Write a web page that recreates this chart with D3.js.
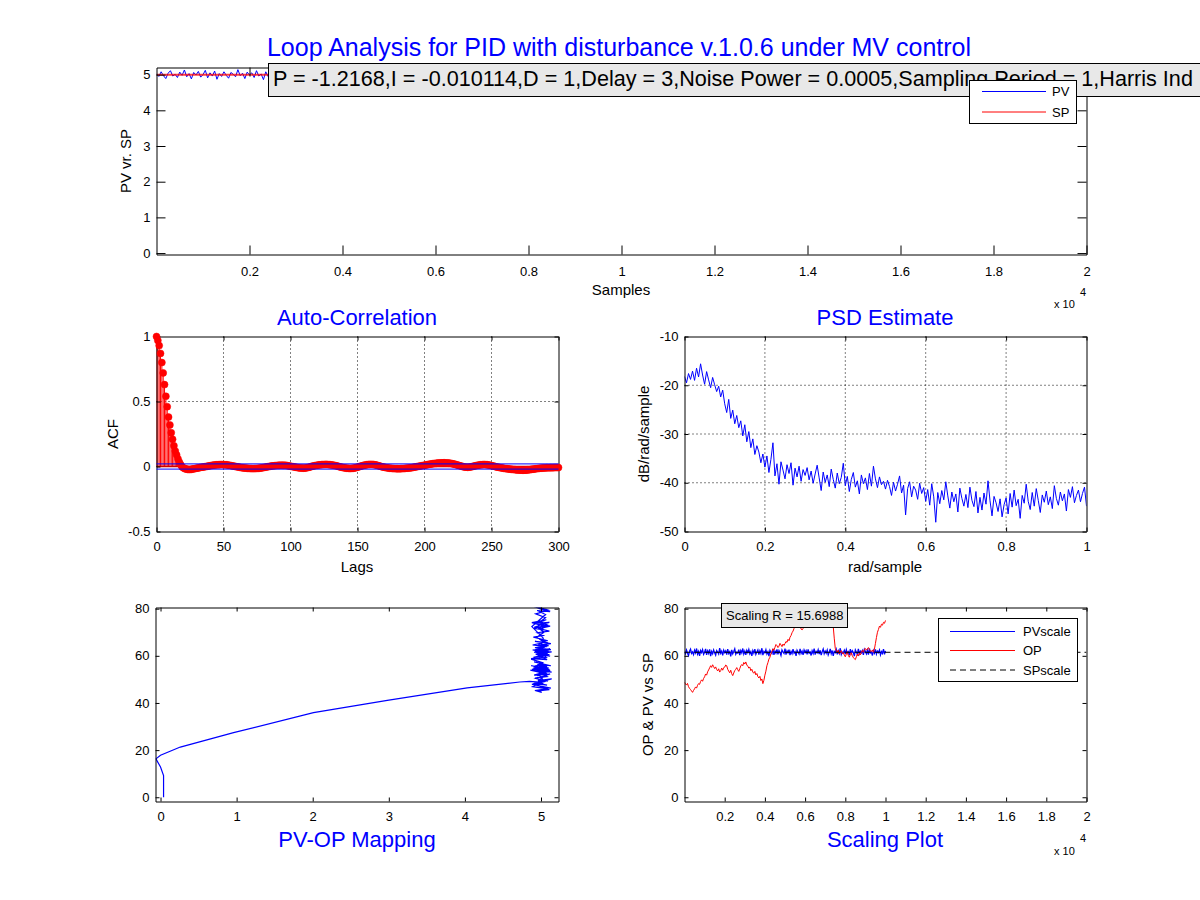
<!DOCTYPE html>
<html>
<head>
<meta charset="utf-8">
<script src="https://cdn.jsdelivr.net/npm/d3@7"></script>
<style>
body { margin: 0; background: #fff; }
text { font-family: "Liberation Sans", Arial, Helvetica, sans-serif; }
</style>
</head>
<body>
<div id="chart"></div>
<script>
// ---- data ----
const sampleStep = 50;            // samples between stored points
const spValue = 5;
const spScaleValue = 61.5;

const pvSeries = [
  5.02, 4.95, 5.08, 4.97, 4.89, 5.04, 5.11, 4.96, 5.01, 4.92, 5.07, 4.98, 5.13, 4.94, 5.03, 4.88, 5.06, 4.99, 5.09, 4.93,
  5.00, 5.12, 4.91, 5.05, 4.96, 5.10, 4.87, 5.03, 4.95, 5.08, 4.98, 4.90, 5.06, 5.01, 4.94, 5.14, 4.97, 5.04, 4.89, 5.07,
  4.99, 5.05, 4.92, 5.11, 4.96, 5.02, 4.86, 5.08, 4.95, 5.03, 5.12, 4.93, 5.00, 4.97, 5.09, 4.90, 5.06, 4.98, 5.13, 4.94,
  5.04, 4.91, 5.07, 4.99, 5.10, 4.95, 5.02, 4.88, 5.06, 4.97, 5.11, 4.93, 5.01, 5.08, 4.92, 5.05, 4.96, 5.14, 4.90, 5.03,
  4.98, 5.09, 4.94, 5.02, 4.87, 5.07, 5.00, 4.95, 5.12, 4.91, 5.04, 4.97, 5.10, 4.93, 5.06, 4.99, 4.89, 5.08, 5.01, 4.96,
  5.13, 4.92, 5.05, 4.98, 5.09, 4.90, 5.03, 4.95, 5.11, 4.97, 5.02, 4.88, 5.07, 5.00, 4.94, 5.12, 4.96, 5.04, 4.91, 5.08,
  4.99, 5.06, 4.93, 5.10, 4.97, 5.01, 4.89, 5.05, 4.96, 5.13, 4.92, 5.03, 4.98, 5.09, 4.94, 5.07, 4.90, 5.02, 5.11, 4.95,
  5.04, 4.97, 5.08, 4.91, 5.00, 5.12, 4.95, 5.06, 4.88, 5.03, 4.99, 5.10, 4.93, 5.05, 4.96, 5.14, 4.92, 5.01, 4.98, 5.07,
  4.94, 5.09, 4.97, 5.02, 4.90, 5.11, 4.96, 5.05, 4.99, 4.87, 5.08, 5.00, 4.93, 5.12, 4.95, 5.04, 4.98, 5.06, 4.91, 5.10,
  5.03, 4.95, 5.07, 4.92, 5.13, 4.98, 5.01, 4.89, 5.06, 4.97, 5.10, 4.94, 5.04, 4.99, 5.08, 4.91, 5.02, 4.96, 5.11, 4.93,
  5.05
];

const opSeries = [
  48.8, 48.1, 47.6, 48.3, 46.9, 46.2, 45.7, 45.1, 44.5, 45.3, 46.0, 46.8, 46.3, 47.5, 48.2, 47.9, 49.1, 49.8, 49.2, 50.4,
  51.1, 52.3, 51.8, 53.2, 54.0, 54.9, 55.8, 55.1, 56.2, 55.4, 54.6, 55.3, 54.2, 53.6, 54.5, 53.1, 53.7, 54.8, 53.9, 55.0,
  55.2, 56.1, 55.8, 54.3, 53.5, 52.8, 53.9, 52.4, 51.6, 52.7, 53.8, 54.2, 55.0, 54.1, 53.4, 54.6, 55.7, 56.3, 55.8, 57.2,
  56.5, 57.4, 56.1, 55.6, 54.8, 55.2, 53.7, 54.3, 53.1, 52.6, 53.4, 51.9, 52.5, 51.2, 50.6, 51.3, 49.5, 50.2, 48.2, 49.6,
  51.8, 53.5, 55.8, 57.1, 58.6, 59.4, 61.0, 61.8, 63.0, 62.4, 63.6, 64.8, 64.3, 63.5, 64.1, 65.3, 64.6, 63.9, 65.0, 64.4,
  65.2, 66.1, 65.7, 67.0, 66.4, 67.9, 68.6, 69.8, 70.5, 71.6, 72.8, 74.1, 75.3, 74.6, 73.5, 72.6, 71.4, 71.0, 71.6, 73.1,
  74.5, 76.2, 77.8, 79.3, 80.6, 81.9, 83.2, 82.5, 84.1, 85.3, 84.6, 86.0, 85.2, 86.8, 87.5, 86.3, 85.1, 84.4, 83.0, 82.2,
  81.5, 80.3, 79.6, 80.9, 79.8, 78.7, 79.2, 77.5, 72.4, 67.5, 63.2, 62.1, 61.5, 62.4, 60.8, 61.7, 62.2, 60.9, 61.4, 60.3,
  59.6, 60.7, 61.8, 60.2, 59.4, 60.5, 61.3, 60.1, 59.2, 58.8, 58.4, 59.6, 60.8, 59.9, 61.2, 60.4, 61.7, 62.3, 61.5, 62.8,
  63.1, 62.4, 62.9, 63.5, 62.6, 62.0, 61.8, 62.5, 61.5, 62.9, 65.3, 67.8, 70.0, 71.2, 72.6, 72.1, 73.4, 73.0, 74.2, 73.8,
  75.0
];

// start-up transient (PV, OP) before the loop settles
const startPV = [0.04, 0.04, 0.04, 0.00, -0.06, 0.00, 0.26, 0.96, 2.01, 2.98, 4.03, 4.72, 4.85];
const startOP = [0.0, 5.0, 9.2, 12.8, 16.3, 17.8, 21.3, 27.4, 35.9, 41.1, 46.4, 48.9, 49.2];

const acfValues = [
  1.00, 0.97, 0.93, 0.87, 0.80, 0.72, 0.63, 0.54, 0.46, 0.38,
  0.32, 0.26, 0.21, 0.16, 0.12, 0.09, 0.06, 0.035, 0.015, -0.002,
  -0.010, -0.016, -0.020, -0.022, -0.023, -0.023, -0.022, -0.020, -0.018, -0.015,
  -0.013, -0.011, -0.009, -0.007, -0.005, -0.004, -0.002, 0.000, 0.002, 0.004,
  0.006, 0.008, 0.009, 0.011, 0.012, 0.013, 0.014, 0.014, 0.015, 0.015,
  0.014, 0.014, 0.013, 0.012, 0.010, 0.008, 0.006, 0.004, 0.002, 0.000,
  -0.002, -0.004, -0.006, -0.008, -0.010, -0.011, -0.012, -0.013, -0.014, -0.015,
  -0.015, -0.016, -0.016, -0.016, -0.015, -0.015, -0.014, -0.013, -0.011, -0.010,
  -0.008, -0.006, -0.004, -0.002, 0.000, 0.002, 0.004, 0.005, 0.006, 0.007,
  0.008, 0.009, 0.009, 0.010, 0.010, 0.009, 0.009, 0.008, 0.006, 0.004,
  0.002, 0.000, -0.002, -0.004, -0.006, -0.008, -0.010, -0.011, -0.012, -0.012,
  -0.013, -0.012, -0.010, -0.008, -0.005, -0.002, 0.001, 0.004, 0.006, 0.008,
  0.010, 0.012, 0.013, 0.014, 0.015, 0.015, 0.016, 0.016, 0.015, 0.014,
  0.013, 0.012, 0.010, 0.008, 0.006, 0.003, 0.000, -0.003, -0.005, -0.008,
  -0.010, -0.012, -0.013, -0.014, -0.015, -0.015, -0.014, -0.013, -0.011, -0.008,
  -0.005, -0.002, 0.001, 0.004, 0.007, 0.010, 0.012, 0.014, 0.015, 0.016,
  0.016, 0.016, 0.015, 0.013, 0.011, 0.008, 0.005, 0.002, -0.001, -0.004,
  -0.006, -0.008, -0.010, -0.012, -0.013, -0.014, -0.015, -0.016, -0.016, -0.017,
  -0.017, -0.017, -0.017, -0.016, -0.016, -0.015, -0.014, -0.013, -0.012, -0.011,
  -0.010, -0.008, -0.006, -0.004, -0.002, 0.000, 0.002, 0.004, 0.006, 0.008,
  0.010, 0.012, 0.014, 0.016, 0.018, 0.020, 0.021, 0.023, 0.024, 0.025,
  0.026, 0.027, 0.027, 0.028, 0.028, 0.028, 0.027, 0.027, 0.026, 0.025,
  0.023, 0.021, 0.019, 0.016, 0.013, 0.010, 0.007, 0.004, 0.001, -0.002,
  -0.004, -0.005, -0.006, -0.005, -0.004, -0.002, 0.000, 0.003, 0.005, 0.008,
  0.010, 0.012, 0.013, 0.014, 0.015, 0.015, 0.014, 0.013, 0.011, 0.009,
  0.007, 0.004, 0.002, -0.001, -0.004, -0.006, -0.008, -0.010, -0.012, -0.014,
  -0.015, -0.017, -0.018, -0.019, -0.021, -0.022, -0.023, -0.024, -0.025, -0.026,
  -0.027, -0.027, -0.028, -0.028, -0.028, -0.028, -0.027, -0.026, -0.025, -0.024,
  -0.022, -0.021, -0.019, -0.018, -0.016, -0.015, -0.014, -0.013, -0.012, -0.011,
  -0.011, -0.010, -0.010, -0.010, -0.009, -0.009, -0.009, -0.008, -0.008, -0.008,
  -0.008
];
const acfConf = 0.02;

const psdStep = 0.005;
const psdValues = [
  -18.2, -19.5, -17.6, -18.8, -17.1, -19.0, -16.5, -18.3, -15.6, -17.9, -19.8, -17.2, -18.9, -20.5, -18.4, -19.9, -21.3, -20.2, -22.4, -21.0,
  -23.8, -25.6, -22.9, -26.8, -25.1, -27.9, -26.2, -28.7, -27.3, -30.4, -28.1, -31.6, -29.5, -32.8, -31.0, -34.2, -32.4, -33.7, -35.9, -34.1,
  -36.8, -34.5, -37.9, -35.2, -31.8, -38.6, -36.1, -40.3, -35.7, -37.4, -39.2, -36.3, -38.1, -35.9, -40.5, -37.0, -38.8, -36.6, -39.7, -37.3,
  -38.5, -36.9, -39.4, -37.6, -40.1, -38.2, -36.4, -39.0, -41.6, -37.8, -39.9, -38.4, -40.8, -37.2, -39.3, -41.1, -38.0, -40.2, -38.9, -36.0,
  -40.6, -38.7, -41.8, -39.3, -37.9, -40.9, -39.6, -42.3, -38.4, -40.2, -39.0, -41.4, -38.1, -40.7, -36.6, -39.2, -41.0, -38.8, -40.4, -39.7,
  -41.3, -39.5, -40.8, -42.6, -39.9, -41.7, -40.3, -38.6, -42.1, -40.5, -46.6, -41.2, -39.8, -42.9, -40.7, -41.5, -43.4, -40.1, -42.2, -41.0,
  -43.8, -41.4, -44.6, -40.2, -42.9, -48.1, -42.0, -44.3, -41.6, -43.5, -39.8, -42.7, -45.2, -41.9, -43.9, -42.3, -46.0, -41.1, -43.2, -44.8,
  -42.4, -45.1, -40.9, -43.6, -44.9, -41.8, -46.2, -43.0, -45.6, -42.1, -44.4, -39.6, -43.7, -46.8, -42.8, -44.1, -45.9, -43.3, -47.0, -44.5,
  -43.1, -46.4, -42.2, -45.0, -41.5, -44.7, -43.4, -47.3, -42.6, -44.2, -40.3, -43.8, -45.5, -42.0, -44.8, -41.2, -43.6, -46.1, -42.5, -44.0,
  -41.7, -44.5, -42.9, -45.3, -40.6, -43.2, -44.6, -41.9, -43.7, -42.3, -45.8, -41.4, -43.0, -40.8, -44.1, -42.6, -41.5, -43.9, -42.2, -40.9,
  -44.8
];

const mainTitle = "Loop Analysis for PID with disturbance v.1.0.6 under MV control";
const paramText = "P = -1.2168,I = -0.010114,D = 1,Delay = 3,Noise Power = 0.0005,Sampling Period = 1,Harris Ind";
const scalingText = "Scaling R = 15.6988";

// ---- drawing ----
const FONT = '"Liberation Sans", Arial, Helvetica, sans-serif';
const svg = d3.select("#chart").append("svg").attr("width", 1200).attr("height", 900);

// matlab prints a plain hyphen, d3 uses the unicode minus
const num = d => String(+d.toFixed(6));

function panel(id, box, xDomain, yDomain) {
  const x = d3.scaleLinear().domain(xDomain).range([box.x0, box.x1]);
  const y = d3.scaleLinear().domain(yDomain).range([box.y1, box.y0]);
  svg.append("clipPath").attr("id", id).append("rect")
    .attr("x", box.x0).attr("y", box.y0).attr("width", box.x1 - box.x0).attr("height", box.y1 - box.y0);
  const g = svg.append("g");
  const grid = g.append("g");
  const plot = g.append("g").attr("clip-path", `url(#${id})`);
  const axes = g.append("g");
  return {x, y, g, grid, plot, axes, box};
}

function frame(p, xt, yt, xfmt, yfmt, tl, xpad) {
  const {x, y, box, axes} = p;
  const style = s => s.attr("font-size", 13).attr("font-family", FONT);
  axes.append("g").attr("transform", `translate(0,${box.y1})`)
    .call(d3.axisBottom(x).tickValues(xt).tickFormat(xfmt).tickSizeInner(-tl).tickSizeOuter(0).tickPadding(xpad))
    .call(style);
  axes.append("g").attr("transform", `translate(0,${box.y0})`)
    .call(d3.axisTop(x).tickValues(xt).tickFormat("").tickSizeInner(-tl).tickSizeOuter(0));
  axes.append("g").attr("transform", `translate(${box.x0},0)`)
    .call(d3.axisLeft(y).tickValues(yt).tickFormat(yfmt).tickSizeInner(-tl).tickSizeOuter(0).tickPadding(6))
    .call(style);
  axes.append("g").attr("transform", `translate(${box.x1},0)`)
    .call(d3.axisRight(y).tickValues(yt).tickFormat("").tickSizeInner(-tl).tickSizeOuter(0));
}

function gridLines(p, xt, yt) {
  const {x, y, box, grid} = p;
  const gg = grid.append("g").attr("stroke", "#000").attr("stroke-dasharray", "1,3");
  xt.forEach(v => gg.append("line").attr("x1", x(v)).attr("x2", x(v)).attr("y1", box.y0).attr("y2", box.y1));
  yt.forEach(v => gg.append("line").attr("x1", box.x0).attr("x2", box.x1).attr("y1", y(v)).attr("y2", y(v)));
}

function label(txt, x, y, size, color, rotate) {
  const t = svg.append("text").attr("font-size", size).attr("fill", color || "#000")
    .attr("text-anchor", "middle").text(txt);
  if (rotate) t.attr("transform", `translate(${x},${y}) rotate(-90)`);
  else t.attr("x", x).attr("y", y);
  return t;
}

function legend(x0, y0, w, h, items, rowY, lineX0, lineX1, textX) {
  const lg = svg.append("g");
  lg.append("rect").attr("x", x0).attr("y", y0).attr("width", w).attr("height", h)
    .attr("fill", "#fff").attr("stroke", "#000");
  items.forEach((it, i) => {
    const yy = y0 + rowY[i];
    lg.append("line").attr("x1", lineX0).attr("x2", lineX1).attr("y1", yy).attr("y2", yy)
      .attr("stroke", it.color).attr("stroke-dasharray", it.dash || null);
    lg.append("text").attr("x", textX).attr("y", yy + 4.5).attr("font-size", 13).text(it.name);
  });
}

const sampleX = (d, i) => i * sampleStep;
const fmt4 = d => num(d / 1e4);
const samplesTicks = d3.range(2000, 20001, 2000);

// ---------- top: PV vs SP ----------
const pvP = panel("clipTop", {x0: 156.5, x1: 1086.5, y0: 67.5, y1: 254.5}, [0, 20000], [-0.04, 5.2]);
pvP.plot.append("path").datum(pvSeries)
  .attr("d", d3.line().x((d, i) => pvP.x(sampleX(d, i))).y(d => pvP.y(d)))
  .attr("fill", "none").attr("stroke", "#0000ff").attr("stroke-width", 1);
pvP.plot.append("line")
  .attr("x1", pvP.x(0)).attr("x2", pvP.x((pvSeries.length - 1) * sampleStep))
  .attr("y1", pvP.y(spValue)).attr("y2", pvP.y(spValue))
  .attr("stroke", "#ff0000").attr("stroke-opacity", 0.75).attr("stroke-width", 2);
frame(pvP, samplesTicks, [0, 1, 2, 3, 4, 5], fmt4, num, 9, 12);
label("Samples", 621, 295, 15);
label("PV vr. SP", 131, 161, 15, "#000", true);
svg.append("text").attr("x", 1054).attr("y", 308).attr("font-size", 11).text("x 10");
svg.append("text").attr("x", 1080).attr("y", 296).attr("font-size", 11).text("4");

// ---------- ACF ----------
const acf = panel("clipAcf", {x0: 156.5, x1: 558.5, y0: 336.5, y1: 531.5}, [0, 300], [-0.5, 1]);
const acfTicksX = [0, 50, 100, 150, 200, 250, 300];
const acfTicksY = [-0.5, 0, 0.5, 1];
gridLines(acf, [50, 100, 150, 200, 250], [0, 0.5]);
acf.plot.selectAll("line.stem").data(acfValues).join("line").attr("class", "stem")
  .attr("x1", (d, i) => acf.x(i)).attr("x2", (d, i) => acf.x(i))
  .attr("y1", acf.y(0)).attr("y2", d => acf.y(d))
  .attr("stroke", "#ff0000");
acf.plot.append("line").attr("x1", acf.x(0)).attr("x2", acf.x(300))
  .attr("y1", acf.y(0)).attr("y2", acf.y(0)).attr("stroke", "#cc0000").attr("stroke-width", 1.5);
acf.g.append("g").selectAll("circle").data(acfValues).join("circle")
  .attr("cx", (d, i) => acf.x(i)).attr("cy", d => acf.y(d)).attr("r", 3.5)
  .attr("fill", "#ff0000").attr("stroke", "#ff0000").attr("stroke-width", 0.5);
[acfConf, -acfConf].forEach(c => acf.g.append("line")
  .attr("x1", acf.x(0)).attr("x2", acf.x(300)).attr("y1", acf.y(c)).attr("y2", acf.y(c))
  .attr("stroke", "#0000ff").attr("stroke-width", 1));
frame(acf, acfTicksX, acfTicksY, num, num, 4, 10);
label("Auto-Correlation", 357, 325, 22, "#0000ff");
label("Lags", 357, 572, 15);
label("ACF", 118, 434, 15, "#000", true);

// ---------- PSD ----------
const psd = panel("clipPsd", {x0: 684.5, x1: 1086.5, y0: 336.5, y1: 531.5}, [0, 1], [-50, -10]);
gridLines(psd, [0.2, 0.4, 0.6, 0.8], [-40, -30, -20]);
psd.plot.append("path").datum(psdValues)
  .attr("d", d3.line().x((d, i) => psd.x(i * psdStep)).y(d => psd.y(d)))
  .attr("fill", "none").attr("stroke", "#0000ff").attr("stroke-width", 1);
frame(psd, [0, 0.2, 0.4, 0.6, 0.8, 1], [-50, -40, -30, -20, -10], num, num, 4, 10);
label("PSD Estimate", 885, 325, 22, "#0000ff");
label("rad/sample", 885, 572, 15);
label("dB/rad/sample", 649, 434, 15, "#000", true);

// ---------- PV-OP mapping ----------
const map = panel("clipMap", {x0: 155.5, x1: 558.5, y0: 607.5, y1: 801.5}, [-0.066, 5.23], [-1.8, 80.5]);
const n = Math.min(pvSeries.length, opSeries.length);
const mapPts = startPV.map((v, i) => [v, startOP[i]])
  .concat(d3.range(n).map(i => [pvSeries[i], opSeries[i]]));
map.plot.append("path").datum(mapPts)
  .attr("d", d3.line().x(d => map.x(d[0])).y(d => map.y(d[1])))
  .attr("fill", "none").attr("stroke", "#0000ff").attr("stroke-width", 1.2);
frame(map, [0, 1, 2, 3, 4, 5], [0, 20, 40, 60, 80], num, num, 4, 10);
label("PV-OP Mapping", 357, 847, 22, "#0000ff");

// ---------- Scaling plot ----------
const scl = panel("clipScl", {x0: 684.5, x1: 1086.5, y0: 607.5, y1: 801.5}, [0, 20000], [-1.8, 80.5]);
const pvScale = spScaleValue / spValue;
scl.plot.append("path").datum(pvSeries)
  .attr("d", d3.line().x((d, i) => scl.x(sampleX(d, i))).y(d => scl.y(d * pvScale)))
  .attr("fill", "none").attr("stroke", "#0000ff").attr("stroke-width", 1.3);
scl.plot.append("path").datum(opSeries)
  .attr("d", d3.line().x((d, i) => scl.x(sampleX(d, i))).y(d => scl.y(d)))
  .attr("fill", "none").attr("stroke", "#ff0000").attr("stroke-width", 1);
scl.plot.append("line").attr("x1", scl.x(0)).attr("x2", scl.x(20000))
  .attr("y1", scl.y(spScaleValue)).attr("y2", scl.y(spScaleValue))
  .attr("stroke", "#000").attr("stroke-dasharray", "6,4");
frame(scl, samplesTicks, [0, 20, 40, 60, 80], fmt4, num, 4, 10);
label("Scaling Plot", 885, 847, 22, "#0000ff");
label("OP & PV vs SP", 653, 704.5, 15, "#000", true);
svg.append("text").attr("x", 1054).attr("y", 855).attr("font-size", 11).text("x 10");
svg.append("text").attr("x", 1080).attr("y", 842).attr("font-size", 11).text("4");

// text box for scaling factor
svg.append("rect").attr("x", 721.5).attr("y", 603.5).attr("width", 126).attr("height", 24)
  .attr("fill", "#e8e8e8").attr("stroke", "#000");
svg.append("text").attr("x", 726).attr("y", 620).attr("font-size", 13).text(scalingText);

legend(938.5, 618.5, 139, 63,
  [{name: "PVscale", color: "#0000ff"}, {name: "OP", color: "#ff0000"}, {name: "SPscale", color: "#000", dash: "6,4"}],
  [13, 32, 51.5], 950, 1015, 1023);

// ---------- header: title, parameter box, legend ----------
label(mainTitle, 619, 56, 25, "#0000ff");
svg.append("rect").attr("x", 268.5).attr("y", 63.5).attr("width", 940).attr("height", 33)
  .attr("fill", "#e8e8e8").attr("stroke", "#000");
svg.append("text").attr("x", 273).attr("y", 86).attr("font-size", 21.6).text(paramText);
legend(969.5, 80.5, 107, 43,
  [{name: "PV", color: "#0000ff"}, {name: "SP", color: "#ff0000"}],
  [11, 31.5], 982, 1046, 1052);
</script>
</body>
</html>
